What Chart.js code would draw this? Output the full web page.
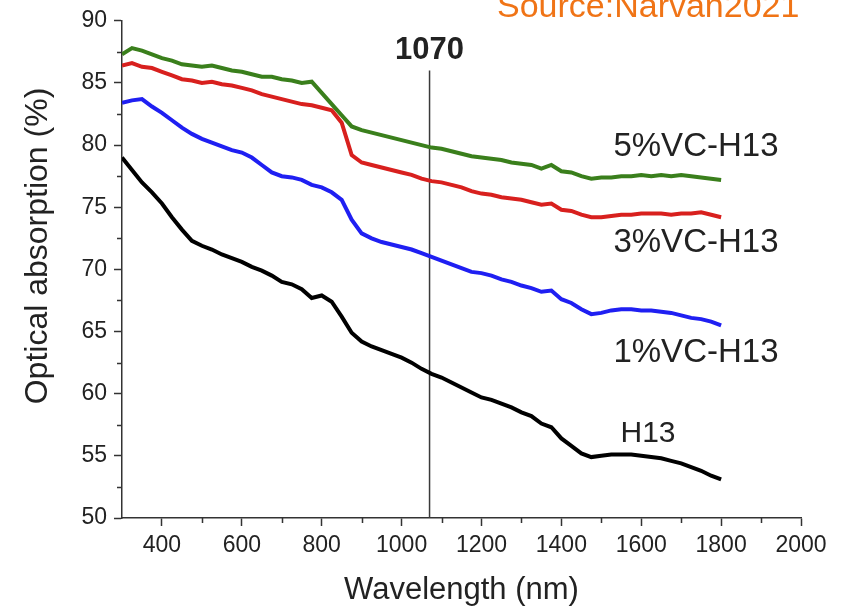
<!DOCTYPE html>
<html>
<head>
<meta charset="utf-8">
<script src="https://cdn.jsdelivr.net/npm/chart.js@4"></script>
<style>
  html, body { margin: 0; padding: 0; background: #fff; }
  #wrap { width: 843px; height: 609px; }
</style>
</head>
<body>
<div id="wrap"><canvas id="grafico" width="843" height="609"></canvas></div>
<script>
// Dados (absorção óptica em %)
const wavelength = [300, 325, 350, 375, 400, 425, 450, 475, 500, 525, 550, 575, 600, 625, 650, 675, 700, 725, 750, 775,
  800, 825, 850, 875, 900, 925, 950, 975, 1000, 1025, 1050, 1075, 1100, 1125, 1150, 1175, 1200, 1225, 1250, 1275,
  1300, 1325, 1350, 1375, 1400, 1425, 1450, 1475, 1500, 1525, 1550, 1575, 1600, 1625, 1650, 1675, 1700, 1725, 1750, 1775, 1800];

const vc5 = [87.3, 87.8, 87.6, 87.3, 87.0, 86.8, 86.5, 86.4, 86.3, 86.4, 86.2, 86.0, 85.9, 85.7, 85.5, 85.5, 85.3, 85.2, 85.0, 85.1,
  84.2, 83.3, 82.4, 81.5, 81.2, 81.0, 80.8, 80.6, 80.4, 80.2, 80.0, 79.8, 79.7, 79.5, 79.3, 79.1, 79.0, 78.9, 78.8, 78.6,
  78.5, 78.4, 78.1, 78.4, 77.9, 77.8, 77.5, 77.3, 77.4, 77.4, 77.5, 77.5, 77.6, 77.5, 77.6, 77.5, 77.6, 77.5, 77.4, 77.3, 77.2];

const vc3 = [86.4, 86.6, 86.3, 86.2, 85.9, 85.6, 85.3, 85.2, 85.0, 85.1, 84.9, 84.8, 84.6, 84.4, 84.1, 83.9, 83.7, 83.5, 83.3, 83.2,
  83.0, 82.8, 81.8, 79.2, 78.6, 78.4, 78.2, 78.0, 77.8, 77.6, 77.3, 77.1, 77.0, 76.8, 76.6, 76.3, 76.1, 76.0, 75.8, 75.7,
  75.6, 75.4, 75.2, 75.3, 74.8, 74.7, 74.4, 74.2, 74.2, 74.3, 74.4, 74.4, 74.5, 74.5, 74.5, 74.4, 74.5, 74.5, 74.6, 74.4, 74.2];

const vc1 = [83.4, 83.6, 83.7, 83.1, 82.6, 82.0, 81.4, 80.9, 80.5, 80.2, 79.9, 79.6, 79.4, 79.0, 78.4, 77.8, 77.5, 77.4, 77.2, 76.8,
  76.6, 76.2, 75.6, 74.0, 72.9, 72.5, 72.2, 72.0, 71.8, 71.6, 71.3, 71.0, 70.7, 70.4, 70.1, 69.8, 69.7, 69.5, 69.2, 69.0,
  68.7, 68.5, 68.2, 68.3, 67.6, 67.3, 66.8, 66.4, 66.5, 66.7, 66.8, 66.8, 66.7, 66.7, 66.6, 66.5, 66.3, 66.1, 66.0, 65.8, 65.5];

const h13 = [79.0, 78.0, 77.0, 76.2, 75.3, 74.2, 73.2, 72.3, 71.9, 71.6, 71.2, 70.9, 70.6, 70.2, 69.9, 69.5, 69.0, 68.8, 68.4, 67.7,
  67.9, 67.4, 66.2, 64.9, 64.2, 63.8, 63.5, 63.2, 62.9, 62.5, 62.0, 61.6, 61.3, 60.9, 60.5, 60.1, 59.7, 59.5, 59.2, 58.9,
  58.5, 58.2, 57.6, 57.3, 56.4, 55.8, 55.2, 54.9, 55.0, 55.1, 55.1, 55.1, 55.0, 54.9, 54.8, 54.6, 54.4, 54.1, 53.8, 53.4, 53.1];

const serieNomes = ['5%VC-H13', '3%VC-H13', '1%VC-H13', 'H13'];
const xTicks = [400, 600, 800, 1000, 1200, 1400, 1600, 1800, 2000];
const yTicks = [50, 55, 60, 65, 70, 75, 80, 85, 90];
const xMinor = [500, 700, 900, 1100, 1300, 1500, 1700, 1900];
const yMinor = [52.5, 57.5, 62.5, 67.5, 72.5, 77.5, 82.5, 87.5];
const laserNm = 1070;
const tituloY = 'Optical absorption (%)';

const cores = ['#3a7f1c', '#d8201e', '#1f1ff2', '#000000'];

function pontos(valores) {
  return wavelength.map((x, i) => ({ x: x, y: valores[i] }));
}

// Rótulos das curvas (posição em coordenadas dos dados)
const rotulos = [
  { texto: serieNomes[0], x: 1737, y: 79.85, tam: 33 },
  { texto: serieNomes[1], x: 1737, y: 72.1, tam: 33 },
  { texto: serieNomes[2], x: 1737, y: 63.3, tam: 33 },
  { texto: serieNomes[3], x: 1617, y: 56.8, tam: 30 }
];

const extras = {
  id: 'extras',
  beforeDatasetsDraw(chart) {
    const { ctx, scales: { x, y } } = chart;
    // linha vertical em 1070 nm
    const px = x.getPixelForValue(laserNm);
    ctx.save();
    ctx.strokeStyle = '#3a3a3a';
    ctx.lineWidth = 1.5;
    ctx.beginPath();
    ctx.moveTo(px, y.getPixelForValue(86.0));
    ctx.lineTo(px, y.getPixelForValue(50));
    ctx.stroke();
    ctx.restore();
  },
  afterDraw(chart) {
    const { ctx, scales: { x, y } } = chart;
    ctx.save();
    // ticks menores
    ctx.strokeStyle = '#333';
    ctx.lineWidth = 1.5;
    ctx.beginPath();
    xMinor.forEach(v => {
      const px = Math.round(x.getPixelForValue(v)) + 0.5;
      ctx.moveTo(px, y.bottom);
      ctx.lineTo(px, y.bottom + 5);
    });
    yMinor.forEach(v => {
      const py = Math.round(y.getPixelForValue(v)) + 0.5;
      ctx.moveTo(x.left, py);
      ctx.lineTo(x.left - 5, py);
    });
    ctx.stroke();

    // título do eixo y (um pouco acima do centro, como no original)
    ctx.fillStyle = '#222';
    ctx.textAlign = 'center';
    ctx.textBaseline = 'middle';
    ctx.save();
    ctx.translate(38, 246);
    ctx.rotate(-Math.PI / 2);
    ctx.font = '32px "Liberation Sans", Arial, sans-serif';
    ctx.fillText(tituloY, 0, 0);
    ctx.restore();

    // rótulos das curvas
    rotulos.forEach(r => {
      ctx.font = r.tam + 'px "Liberation Sans", Arial, sans-serif';
      ctx.fillText(r.texto, x.getPixelForValue(r.x), y.getPixelForValue(r.y));
    });

    ctx.font = 'bold 31px "Liberation Sans", Arial, sans-serif';
    ctx.fillText(String(laserNm), x.getPixelForValue(laserNm), y.getPixelForValue(87.6));

    // fonte
    ctx.fillStyle = '#f07416';
    ctx.textAlign = 'left';
    ctx.textBaseline = 'alphabetic';
    ctx.font = '34px "Liberation Sans Narrow", "Liberation Sans", Arial, sans-serif';
    ctx.fillText('Source:Narvan2021', 497, 17);
    ctx.restore();
  }
};

const ctx = document.getElementById('grafico').getContext('2d');
const myChart = new Chart(ctx, {
  type: 'line',
  data: {
    datasets: [vc5, vc3, vc1, h13].map((serie, i) => ({
      label: serieNomes[i],
      data: pontos(serie),
      borderColor: cores[i],
      borderWidth: 4,
      pointRadius: 0,
      tension: 0,
      fill: false
    }))
  },
  options: {
    responsive: false,
    animation: false,
    devicePixelRatio: 1,
    layout: { padding: { top: 18, right: 42, left: 0, bottom: 0 } },
    plugins: {
      legend: { display: false },
      tooltip: { enabled: false }
    },
    scales: {
      x: {
        type: 'linear',
        min: 300,
        max: 2000,
        afterBuildTicks: s => { s.ticks = xTicks.map(v => ({ value: v })); },
        afterFit: s => { s.height = 91; },
        grid: { drawOnChartArea: false, drawTicks: true, tickLength: 8, tickColor: '#333', tickWidth: 1.5 },
        border: { display: true, color: '#333', width: 1.5 },
        ticks: {
          color: '#222',
          padding: 6,
          maxRotation: 0,
          autoSkip: false,
          callback: v => String(v),
          font: { family: '"Liberation Sans Narrow", "Liberation Sans", Arial', size: 23 }
        },
        title: {
          display: true,
          text: 'Wavelength (nm)',
          color: '#222',
          padding: { top: 0, bottom: 0 },
          font: { family: '"Liberation Sans", Arial', size: 31 }
        }
      },
      y: {
        type: 'linear',
        min: 50,
        max: 90,
        afterBuildTicks: s => { s.ticks = yTicks.map(v => ({ value: v })); },
        afterFit: s => { s.width = 122; },
        grid: { drawOnChartArea: false, drawTicks: true, tickLength: 8, tickColor: '#333', tickWidth: 1.5 },
        border: { display: true, color: '#333', width: 1.5 },
        ticks: {
          color: '#222',
          padding: 7,
          autoSkip: false,
          callback: v => String(v),
          font: { family: '"Liberation Sans Narrow", "Liberation Sans", Arial', size: 23 }
        },
        title: { display: false }
      }
    }
  },
  plugins: [extras]
});
</script>
</body>
</html>
